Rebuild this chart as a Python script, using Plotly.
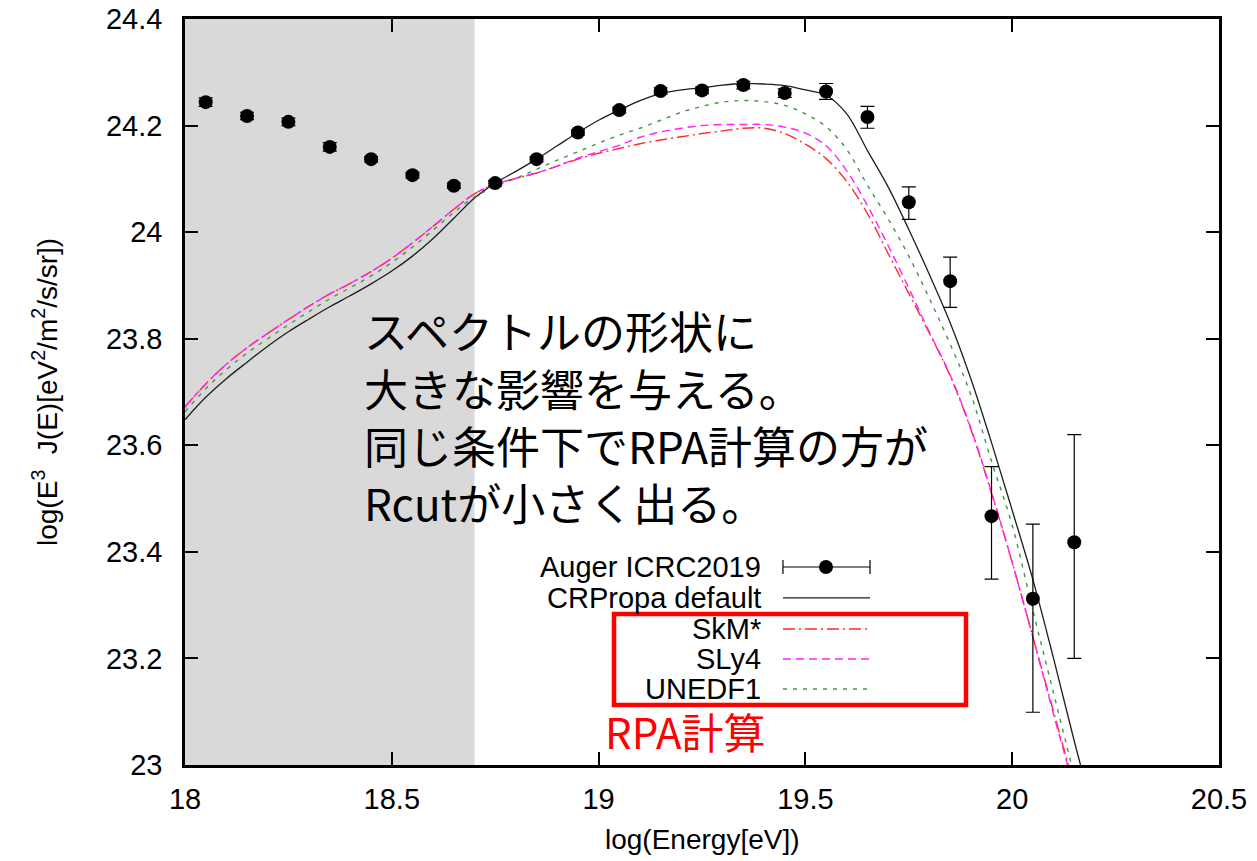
import plotly.graph_objects as go

# ---- Auger ICRC2019 measured spectrum ----
auger_x = [18.05, 18.15, 18.25, 18.35, 18.45, 18.55, 18.65, 18.75, 18.85, 18.95, 19.05,
           19.15, 19.25, 19.35, 19.45, 19.55, 19.65, 19.75, 19.85, 19.95, 20.05, 20.15]
auger_y = [24.244, 24.218, 24.207, 24.160, 24.137, 24.107, 24.087, 24.092, 24.137, 24.187, 24.229,
           24.265, 24.266, 24.276, 24.261, 24.264, 24.216, 24.056, 23.908, 23.467, 23.312, 23.418]
auger_err_plus = [0.008, 0.007, 0.007, 0.008, 0.005, 0.005, 0.005, 0.005, 0.005, 0.005, 0.005,
                  0.006, 0.006, 0.007, 0.008, 0.015, 0.020, 0.029, 0.045, 0.093, 0.140, 0.202]
auger_err_minus = [0.008, 0.007, 0.007, 0.008, 0.005, 0.005, 0.005, 0.005, 0.005, 0.005, 0.005,
                   0.006, 0.006, 0.007, 0.008, 0.015, 0.021, 0.032, 0.049, 0.118, 0.213, 0.218]

# ---- model curves ----
model_x = [18.00, 18.05, 18.10, 18.15, 18.20, 18.25, 18.30, 18.35, 18.40, 18.45, 18.50,
           18.55, 18.60, 18.65, 18.70, 18.75, 18.80, 18.85, 18.90, 18.95, 19.00, 19.05,
           19.10, 19.15, 19.20, 19.25, 19.30, 19.35, 19.40, 19.45, 19.50, 19.55, 19.60,
           19.65, 19.70, 19.75, 19.80, 19.85, 19.90, 19.95, 20.00, 20.05, 20.10, 20.15, 20.20]

crpropa_default = [23.648, 23.690, 23.725, 23.756, 23.786, 23.813, 23.837, 23.860, 23.881, 23.903, 23.927,
                   23.955, 23.988, 24.026, 24.064, 24.092, 24.114, 24.137, 24.162, 24.187, 24.210, 24.229,
                   24.247, 24.260, 24.267, 24.271, 24.276, 24.279, 24.278, 24.275, 24.267, 24.257, 24.222,
                   24.153, 24.085, 24.005, 23.920, 23.830, 23.725, 23.605, 23.478, 23.348, 23.200, 23.045, 22.900]

skm_star = [23.672, 23.715, 23.752, 23.783, 23.810, 23.836, 23.861, 23.884, 23.904, 23.926, 23.951,
            23.980, 24.011, 24.043, 24.072, 24.090, 24.101, 24.111, 24.124, 24.137, 24.148, 24.157,
            24.166, 24.173, 24.179, 24.185, 24.190, 24.195, 24.195, 24.185, 24.165, 24.138, 24.095,
            24.035, 23.960, 23.885, 23.810, 23.730, 23.630, 23.510, 23.380, 23.240, 23.100, 22.960, 22.820]

sly4 = [23.672, 23.715, 23.752, 23.783, 23.810, 23.836, 23.861, 23.884, 23.904, 23.926, 23.951,
        23.980, 24.011, 24.043, 24.072, 24.090, 24.101, 24.111, 24.124, 24.139, 24.151, 24.163,
        24.178, 24.188, 24.195, 24.200, 24.202, 24.202, 24.202, 24.197, 24.186, 24.162, 24.115,
        24.050, 23.975, 23.895, 23.812, 23.732, 23.632, 23.512, 23.380, 23.240, 23.095, 22.955, 22.815]

unedf1 = [23.663, 23.706, 23.742, 23.773, 23.800, 23.826, 23.851, 23.875, 23.896, 23.918, 23.943,
          23.972, 24.004, 24.037, 24.066, 24.085, 24.101, 24.118, 24.135, 24.151, 24.167, 24.182,
          24.195, 24.210, 24.225, 24.236, 24.244, 24.247, 24.245, 24.238, 24.222, 24.198, 24.155,
          24.088, 24.025, 23.955, 23.875, 23.790, 23.695, 23.570, 23.450, 23.290, 23.135, 22.980, 22.830]

# ---- axes ----
x_ticks = [18, 18.5, 19, 19.5, 20, 20.5]
x_tick_text = ["18", "18.5", "19", "19.5", "20", "20.5"]
y_ticks = [23, 23.2, 23.4, 23.6, 23.8, 24, 24.2, 24.4]
y_tick_text = ["23", "23.2", "23.4", "23.6", "23.8", "24", "24.2", "24.4"]
shaded_range = [18.0, 18.7]
x_title = "log(Energy[eV])"
y_title = "log(E<sup>3</sup>  J(E)[eV<sup>2</sup>/m<sup>2</sup>/s/sr])"

# ---- legend / notes ----
legend_labels = ["Auger ICRC2019", "CRPropa default", "SkM*", "SLy4", "UNEDF1"]
note_lines = ["スペクトルの形状に", "大きな影響を与える。", "同じ条件下でRPA計算の方が", "Rcutが小さく出る。"]
rpa_label = "RPA計算"

FONT = "Liberation Sans, Arial, sans-serif"
JP_FONT = "Noto Sans CJK JP, sans-serif"

styles = {
    "CRPropa default": dict(color="#1e1e1e", dash="solid", width=1.3),
    "SkM*": dict(color="#ff2a2a", dash="12px,4px,2px,4px", width=1.4),
    "SLy4": dict(color="#ff22ff", dash="8px,5px", width=1.4),
    "UNEDF1": dict(color="#3f9a3f", dash="4px,6px", width=1.4),
}

fig = go.Figure()

for name, ys in [("CRPropa default", crpropa_default), ("SkM*", skm_star),
                 ("SLy4", sly4), ("UNEDF1", unedf1)]:
    fig.add_trace(go.Scatter(
        x=model_x, y=ys, mode="lines", name=name, line_shape="spline",
        line=styles[name], showlegend=False,
    ))

fig.add_trace(go.Scatter(
    x=auger_x, y=auger_y, mode="markers", name="Auger ICRC2019",
    marker=dict(color="black", size=14),
    error_y=dict(type="data", symmetric=False, array=auger_err_plus,
                 arrayminus=auger_err_minus, color="black", thickness=1.2, width=7),
    showlegend=False,
))

# shaded low-energy region
fig.add_shape(type="rect", xref="x", yref="paper", x0=shaded_range[0], x1=shaded_range[1],
              y0=0, y1=1, fillcolor="#d9d9d9", line_width=0, layer="below")

# hand-built key, right-aligned labels with samples to the right
row_y = [0.2654, 0.2239, 0.1823, 0.1421, 0.1019]
text_right = 0.559
samp_x0, samp_x1, samp_mid = 0.5783, 0.6625, 0.6199
for label, yy in zip(legend_labels, row_y):
    fig.add_annotation(x=text_right, y=yy, xref="paper", yref="paper", text=label,
                       showarrow=False, xanchor="right", yanchor="middle",
                       font=dict(family=FONT, size=29, color="black"))
    if label == "Auger ICRC2019":
        fig.add_shape(type="line", xref="paper", yref="paper", x0=samp_x0, x1=samp_x1,
                      y0=yy, y1=yy, line=dict(color="black", width=1.2))
        for cx in (samp_x0, samp_x1):
            fig.add_shape(type="line", xref="paper", yref="paper", xsizemode="scaled",
                          ysizemode="pixel", yanchor=yy, x0=cx, x1=cx, y0=-7, y1=7,
                          line=dict(color="black", width=1.2))
        fig.add_shape(type="circle", xref="paper", yref="paper", xsizemode="pixel",
                      ysizemode="pixel", xanchor=samp_mid, yanchor=yy, x0=-7, x1=7,
                      y0=-7, y1=7, fillcolor="black", line=dict(color="black", width=0))
    else:
        st = styles[label]
        fig.add_shape(type="line", xref="paper", yref="paper", x0=samp_x0, x1=samp_x1,
                      y0=yy, y1=yy, line=dict(color=st["color"], width=st["width"], dash=st["dash"]))

# box around the RPA models
fig.add_shape(type="rect", xref="paper", yref="paper", x0=0.4149, x1=0.7553, y0=0.0804,
              y1=0.2024, line=dict(color="#ff0000", width=4.5), fillcolor="rgba(0,0,0,0)",
              layer="above")
fig.add_annotation(x=0.4043, y=0.0469, xref="paper", yref="paper", text=rpa_label,
                   showarrow=False, xanchor="left", yanchor="middle",
                   font=dict(family=JP_FONT, size=42, color="#ff0000"))

# explanatory notes
note_y = [0.5831, 0.5054, 0.4290, 0.3525]
for line, yy in zip(note_lines, note_y):
    fig.add_annotation(x=0.1712, y=yy, xref="paper", yref="paper", text=line,
                       showarrow=False, xanchor="left", yanchor="middle",
                       font=dict(family=JP_FONT, size=44, color="black"))

# axis titles
fig.add_annotation(x=0.5, y=-0.1005, xref="paper", yref="paper", text=x_title,
                   showarrow=False, xanchor="center", yanchor="middle",
                   font=dict(family=FONT, size=28, color="black"))
fig.add_annotation(x=-0.1354, y=0.5, xref="paper", yref="paper", text=y_title,
                   showarrow=False, xanchor="center", yanchor="middle", textangle=-90,
                   font=dict(family=FONT, size=28, color="black"))

axis_common = dict(showline=True, linecolor="black", linewidth=2.5, mirror="ticks",
                   ticks="inside", ticklen=13, tickwidth=2, tickcolor="black",
                   showgrid=False, zeroline=False, automargin=False,
                   tickfont=dict(family=FONT, size=29, color="black"))

fig.update_xaxes(range=[18, 20.5], tickvals=x_ticks, ticktext=x_tick_text,
                 ticklabelstandoff=6, **axis_common)
fig.update_yaxes(range=[23, 24.4], tickvals=y_ticks, ticktext=y_tick_text,
                 ticklabelstandoff=14, **axis_common)

fig.update_layout(
    width=1257, height=861,
    margin=dict(l=185, r=38, t=19, b=96),
    plot_bgcolor="white", paper_bgcolor="white",
    showlegend=False,
)

fig.write_html("out.html")
